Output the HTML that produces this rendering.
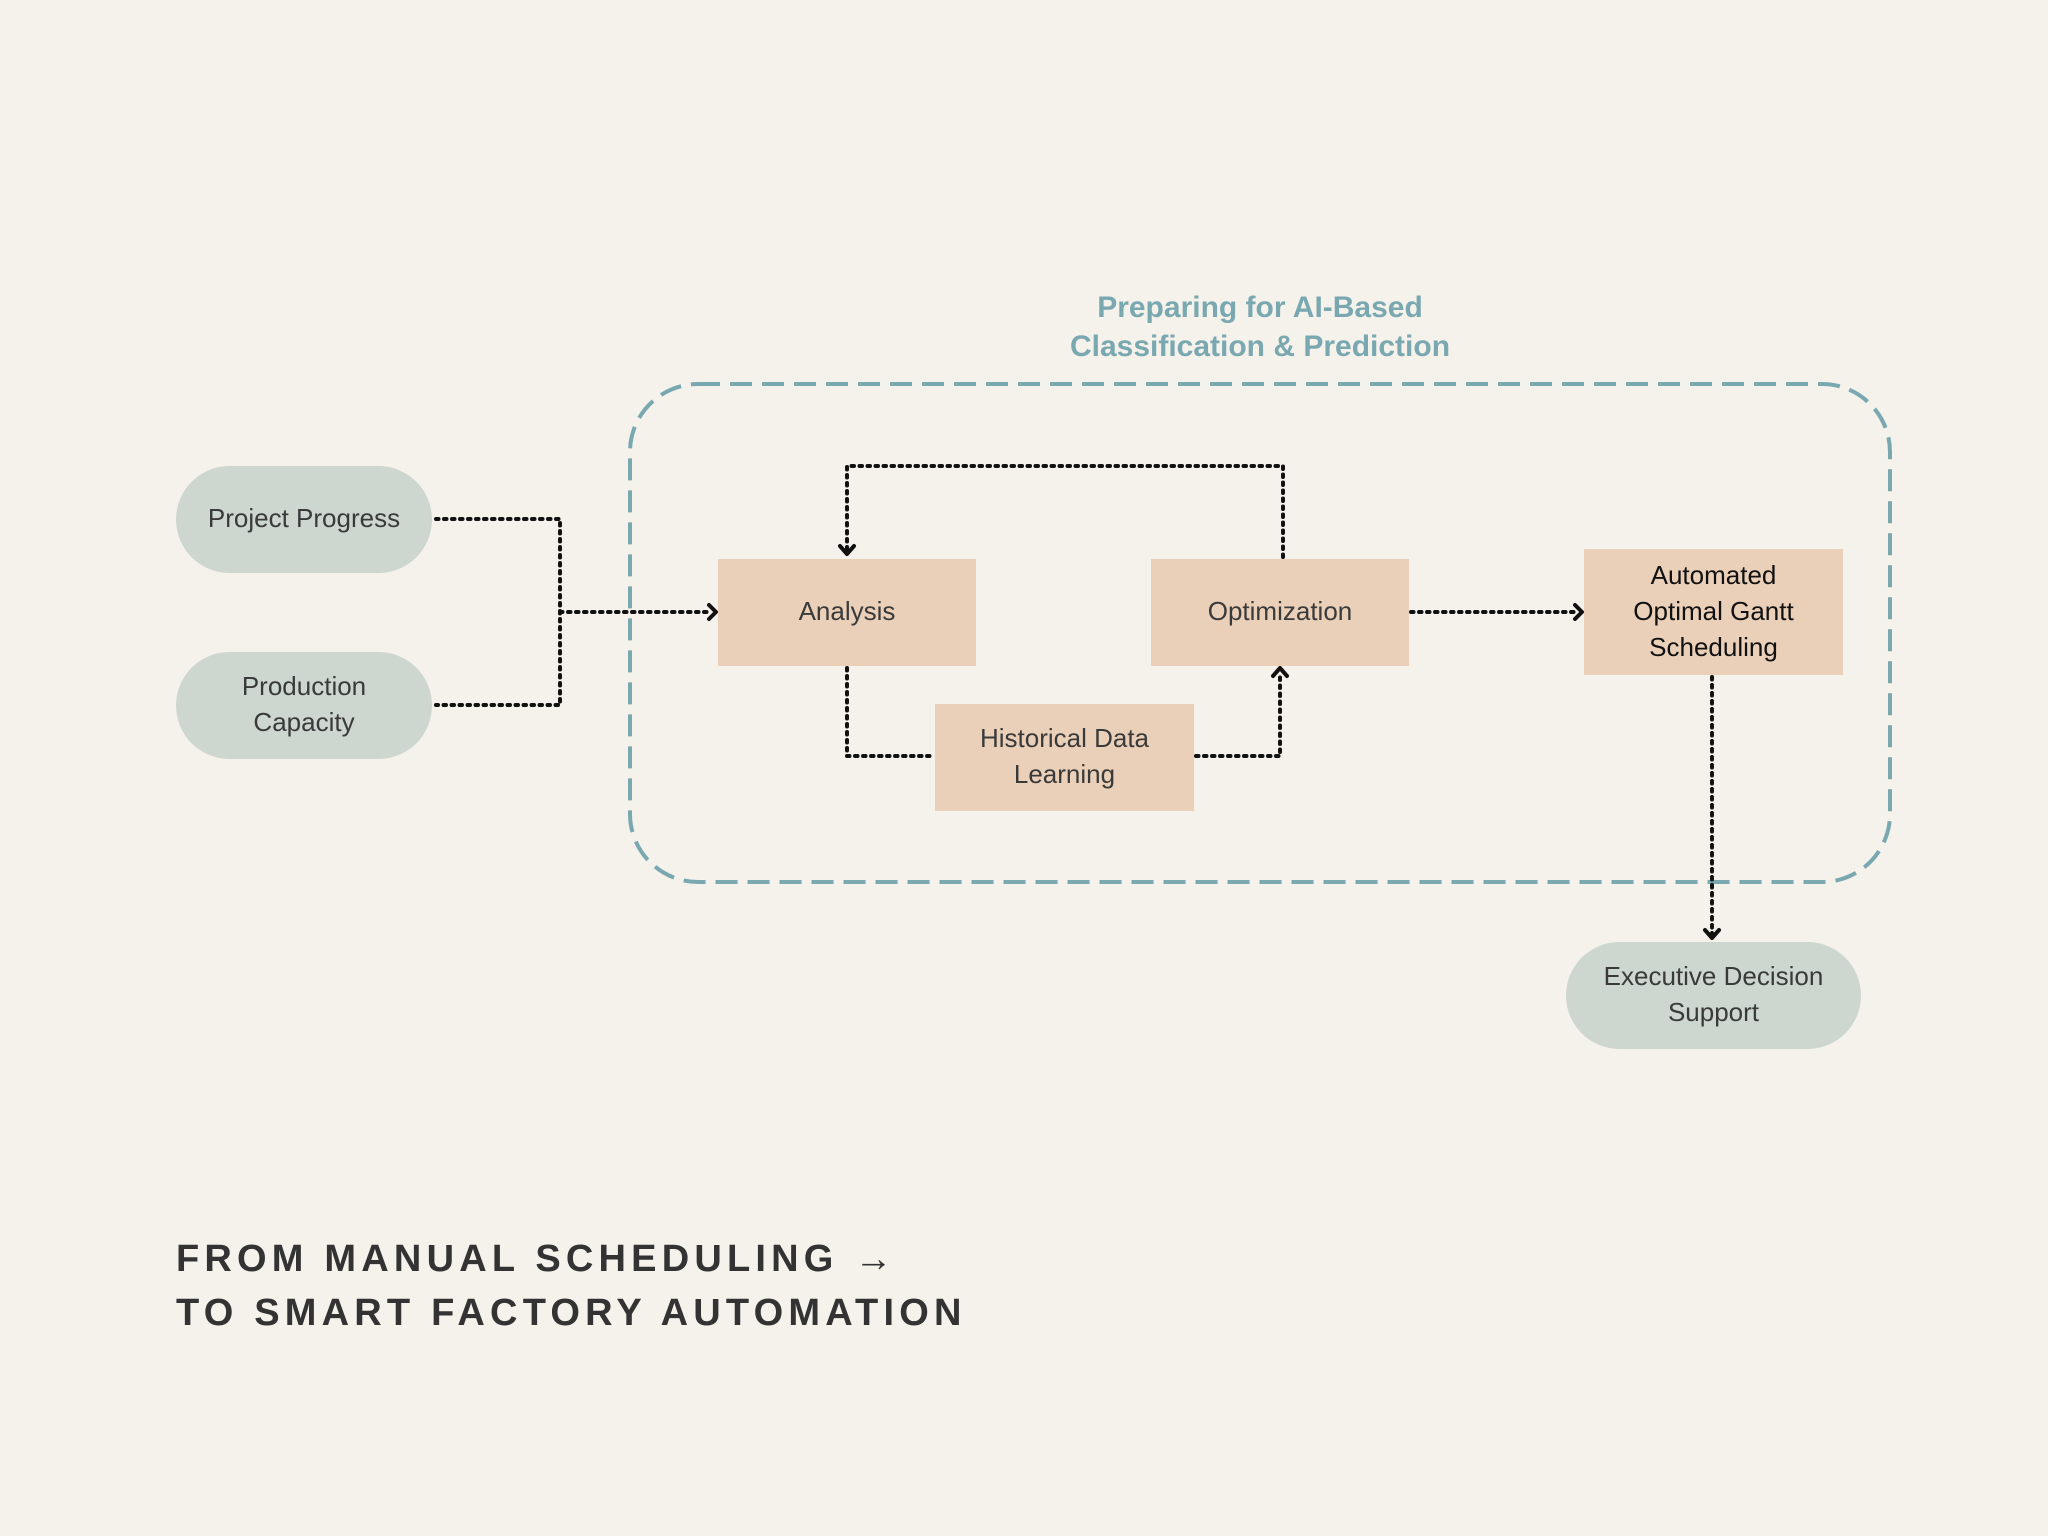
<!DOCTYPE html>
<html><head><meta charset="utf-8"><style>
html,body{margin:0;padding:0;background:#f5f1eb;}
body{width:2048px;height:1536px;position:relative;overflow:hidden;font-family:"Liberation Sans",sans-serif;}
.n{position:absolute;display:flex;align-items:center;justify-content:center;text-align:center;font-size:26px;line-height:36px;color:#3a3a3a;padding-bottom:3px;box-sizing:border-box;}
.p{background:#cdd7cf;border-radius:54px;}
.r{background:#ebd0b9;}
</style></head><body>
<svg width="2048" height="1536" style="position:absolute;left:0;top:0">
<rect x="630" y="384" width="1260" height="498" rx="68" fill="none" stroke="#7aa8b0" stroke-width="4" stroke-dasharray="22 10"/>
<g fill="none" stroke="#111" stroke-width="4" stroke-dasharray="2.5 5.5" stroke-linecap="round">
<path d="M436 519 H560 V705 H436"/>
<path d="M560 612 H712"/>
<path d="M1283 557 V466 H847 V553"/>
<path d="M847 668 V756 H933"/>
<path d="M1196 756 H1280 V672"/>
<path d="M1411 612 H1578"/>
<path d="M1712 677 V936"/>
</g>
<g fill="none" stroke="#111" stroke-width="4" stroke-linecap="round" stroke-linejoin="round">
<path d="M709 605 L716 612 L709 619"/>
<path d="M840 546 L847 554 L854 546"/>
<path d="M1273 676 L1280 668 L1287 676"/>
<path d="M1575 605 L1582 612 L1575 619"/>
<path d="M1705 930 L1712 938 L1719 930"/>
</g>
</svg>
<div class="n p" style="left:176px;top:466px;width:256px;height:107px">Project Progress</div>
<div class="n p" style="left:176px;top:652px;width:256px;height:107px">Production<br>Capacity</div>
<div class="n r" style="left:718px;top:559px;width:258px;height:107px">Analysis</div>
<div class="n r" style="left:1151px;top:559px;width:258px;height:107px">Optimization</div>
<div class="n r" style="left:935px;top:704px;width:259px;height:107px">Historical Data<br>Learning</div>
<div class="n r" style="left:1584px;top:549px;width:259px;height:126px;color:#111">Automated<br>Optimal Gantt<br>Scheduling</div>
<div class="n p" style="left:1566px;top:942px;width:295px;height:107px">Executive Decision<br>Support</div>
<div style="position:absolute;left:960px;top:288px;width:600px;text-align:center;font-weight:bold;font-size:30px;line-height:39px;color:#7aa8b0">Preparing for AI-Based<br>Classification &amp; Prediction</div>
<div style="position:absolute;left:176px;top:1232px;font-weight:bold;font-size:38px;line-height:54px;letter-spacing:5.2px;color:#333">FROM MANUAL SCHEDULING →<br>TO SMART FACTORY AUTOMATION</div>
</body></html>
